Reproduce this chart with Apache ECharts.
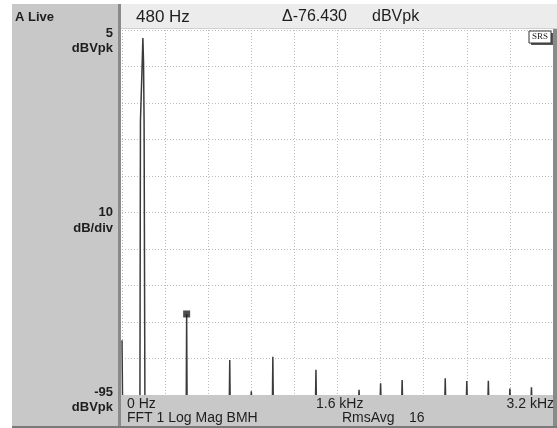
<!DOCTYPE html>
<html>
<head>
<meta charset="utf-8">
<script src="https://cdn.jsdelivr.net/npm/echarts@6/dist/echarts.min.js"></script>
<style>
  html, body { margin: 0; padding: 0; background: #fff; }
  #chart { width: 557px; height: 428px; }
</style>
</head>
<body>
<div id="chart"></div>
<script>
// spectrum values (Hz, dBVpk)
var dcLevel = -80;
var mainPeakFreqs = [133, 137, 150, 155, 160, 164, 170];
var mainPeakLevels = [-96, -20, -4, 2.8, -4, -20, -96];
var harmonicFreqs = [480, 800, 960, 1120, 1440, 1760, 1920, 2080, 2400, 2560, 2720, 2880, 3040];
var harmonicLevels = [-72.8, -85.4, -94, -84.5, -88.1, -93.6, -91.8, -90.9, -90.4, -91.2, -91.1, -93.2, -92.9];
var markerFreq = 480;
var markerLevel = -72.8;

var font = '"Liberation Sans", Arial, sans-serif';

// build the trace: each line is a narrow spike from below the floor
var trace = [[0, dcLevel], [4, -96]];
for (var i = 0; i < mainPeakFreqs.length; i++) {
    trace.push([mainPeakFreqs[i], mainPeakLevels[i]]);
}
for (var j = 0; j < harmonicFreqs.length; j++) {
    trace.push([harmonicFreqs[j] - 3, -96]);
    trace.push([harmonicFreqs[j], harmonicLevels[j]]);
    trace.push([harmonicFreqs[j] + 3, -96]);
}

function txt(x, y, s, opt) {
    opt = opt || {};
    return {
        type: 'text', x: x, y: y, z: 10,
        style: {
            text: s,
            fill: opt.color || '#1e1e1e',
            font: (opt.weight || 'normal') + ' ' + (opt.size || 14) + 'px ' + font,
            textAlign: opt.align || 'left',
            textVerticalAlign: 'middle'
        }
    };
}

var chart = echarts.init(document.getElementById('chart'));
var option = {
    backgroundColor: '#ffffff',
    animation: false,
    grid: { left: 122, top: 30, right: 4, bottom: 33 },
    xAxis: {
        type: 'value',
        min: 0,
        max: 3200,
        interval: 320,
        axisLine: { show: false },
        axisTick: { show: false },
        axisLabel: { show: false },
        splitLine: { lineStyle: { color: '#bcbcbc', type: [1, 2], width: 1 } }
    },
    yAxis: {
        type: 'value',
        min: -95,
        max: 5,
        interval: 10,
        axisLine: { show: false },
        axisTick: { show: false },
        axisLabel: { show: false },
        splitLine: { lineStyle: { color: '#bcbcbc', type: [1, 2], width: 1 } }
    },
    graphic: [
        // left panel
        { type: 'rect', shape: { x: 12, y: 4, width: 107, height: 422 }, style: { fill: '#c8c8c8' }, z: 5 },
        { type: 'rect', shape: { x: 118, y: 4, width: 3, height: 422 }, style: { fill: '#8a8a8a' }, z: 5 },
        // header bar
        { type: 'rect', shape: { x: 121, y: 4, width: 436, height: 24 }, style: { fill: '#ececec' }, z: 5 },
        { type: 'rect', shape: { x: 121, y: 28, width: 436, height: 1 }, style: { fill: '#cfcfcf' }, z: 5 },
        // bottom bar
        { type: 'rect', shape: { x: 121, y: 395, width: 436, height: 31 }, style: { fill: '#c8c8c8' }, z: 5 },
        { type: 'rect', shape: { x: 12, y: 426, width: 545, height: 2 }, style: { fill: '#7a7a7a' }, z: 5 },
        // right border
        { type: 'rect', shape: { x: 553, y: 29, width: 4, height: 397 }, style: { fill: '#8a8a8a' }, z: 5 },
        // SRS badge
        { type: 'rect', shape: { x: 531, y: 33, width: 22, height: 12 }, style: { fill: '#555' }, z: 6 },
        { type: 'rect', shape: { x: 529, y: 31, width: 22, height: 12 }, style: { fill: '#fff', stroke: '#333', lineWidth: 1 }, z: 7 },
        {
            type: 'text', x: 540, y: 37, z: 8,
            style: { text: 'SRS', fill: '#222', font: '9px "Liberation Serif", serif', textAlign: 'center', textVerticalAlign: 'middle' }
        },
        txt(15, 17, 'A Live', { weight: 'bold', size: 13 }),
        txt(136, 17, '480 Hz', { size: 17 }),
        txt(282, 17, '\u0394-76.430', { size: 16 }),
        txt(372, 17, 'dBVpk', { size: 16 }),
        txt(113, 33, '5', { weight: 'bold', size: 13, align: 'right' }),
        txt(113, 48, 'dBVpk', { weight: 'bold', size: 13, align: 'right' }),
        txt(113, 212, '10', { weight: 'bold', size: 13, align: 'right' }),
        txt(113, 228, 'dB/div', { weight: 'bold', size: 13, align: 'right' }),
        txt(113, 392, '-95', { weight: 'bold', size: 13, align: 'right' }),
        txt(113, 407, 'dBVpk', { weight: 'bold', size: 13, align: 'right' }),
        txt(127, 404, '0 Hz'),
        txt(127, 418, 'FFT 1 Log Mag BMH'),
        txt(316, 404, '1.6 kHz'),
        txt(342, 418, 'RmsAvg'),
        txt(409, 418, '16'),
        txt(554, 404, '3.2 kHz', { align: 'right' })
    ],
    series: [
        {
            type: 'line',
            data: trace,
            symbol: 'none',
            clip: true,
            lineStyle: { color: '#3a3a3a', width: 1.5 },
            z: 3
        },
        {
            type: 'scatter',
            data: [[markerFreq, markerLevel]],
            symbol: 'rect',
            symbolSize: 7,
            itemStyle: { color: '#222' },
            z: 4
        }
    ]
};
chart.setOption(option);
</script>
</body>
</html>
